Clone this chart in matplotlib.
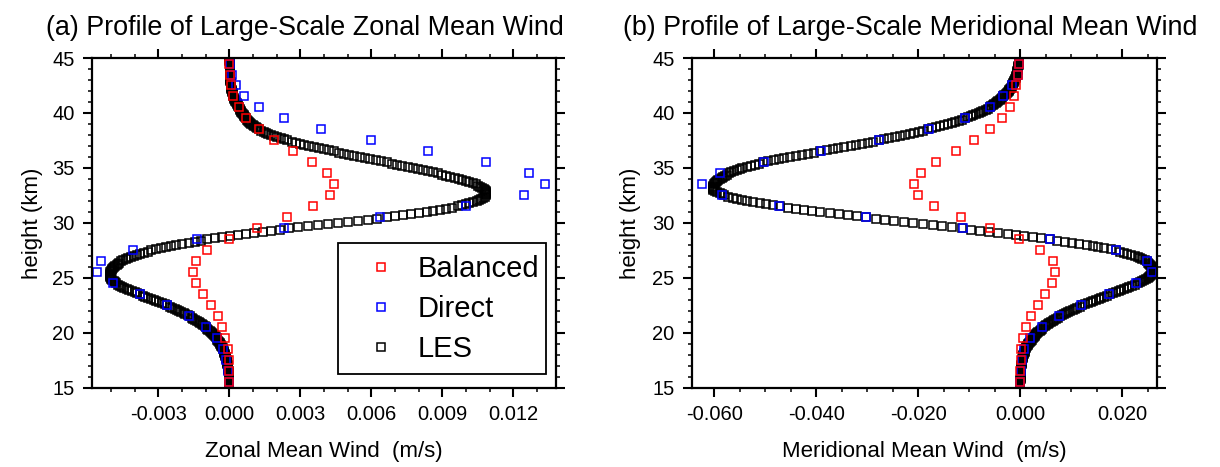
import numpy as np
import matplotlib
matplotlib.use("Agg")
import matplotlib.pyplot as plt
from matplotlib.ticker import MultipleLocator, FormatStrFormatter
from matplotlib.lines import Line2D
from matplotlib.patches import Rectangle

plt.rcParams['font.family'] = ['Liberation Sans', 'DejaVu Sans']
plt.rcParams['axes.unicode_minus'] = False

# heights (km): LES every 0.1 km, Balanced / Direct every 1 km
les_z = np.round(np.linspace(15, 45, 301), 1)
obs_z = np.arange(15.5, 45, 1.0)

# zonal mean wind (m/s)
bal_u = [0.0, 0.0, -0.00003, -0.00007, -0.00017, -0.0003, -0.0005, -0.00078, -0.0011, -0.0014,
         -0.00155, -0.0014, -0.00093, 0.0, 0.00117, 0.00244, 0.00354, 0.00423, 0.00444, 0.00414,
         0.00351, 0.00269, 0.0019, 0.00123, 0.0007, 0.0004, 0.00017, 0.00006, 0.00002, 0.0]
dir_u = [-0.00002, -0.00005, -0.00014, -0.00028, -0.00054, -0.00099, -0.00169, -0.00265, -0.0038, -0.00493,
         -0.0056, -0.00542, -0.00406, -0.00137, 0.00232, 0.00638, 0.01001, 0.01246, 0.01335, 0.01268,
         0.01083, 0.00841, 0.00597, 0.00387, 0.00229, 0.00125, 0.00062, 0.00028, 0.0001, 0.00003]
les_u = [
    0.0, 0.0, 0.0, -0.00001, -0.00001, -0.00001, -0.00001, -0.00001, -0.00002, -0.00002,
    -0.00002, -0.00002, -0.00003, -0.00003, -0.00004, -0.00004, -0.00005, -0.00005, -0.00006, -0.00006,
    -0.00007, -0.00008, -0.00009, -0.0001, -0.00011, -0.00012, -0.00013, -0.00014, -0.00016, -0.00017,
    -0.00018, -0.0002, -0.00022, -0.00023, -0.00025, -0.00027, -0.00029, -0.00032, -0.00034, -0.00037,
    -0.00039, -0.00042, -0.00045, -0.00048, -0.00051, -0.00054, -0.00058, -0.00062, -0.00066, -0.0007,
    -0.00074, -0.00079, -0.00084, -0.00089, -0.00094, -0.00099, -0.00105, -0.00111, -0.00118, -0.00124,
    -0.0013, -0.00137, -0.00145, -0.00153, -0.0016, -0.00168, -0.00177, -0.00186, -0.00194, -0.00203,
    -0.00212, -0.00222, -0.00232, -0.00243, -0.00253, -0.00263, -0.00274, -0.00286, -0.00297, -0.00309,
    -0.0032, -0.00332, -0.00343, -0.00355, -0.00366, -0.00378, -0.00389, -0.004, -0.00412, -0.00423,
    -0.00434, -0.00444, -0.00453, -0.00462, -0.0047, -0.00478, -0.00484, -0.0049, -0.00495, -0.00499,
    -0.00502, -0.00504, -0.00506, -0.00506, -0.00505, -0.00503, -0.00501, -0.00498, -0.00495, -0.00492,
    -0.00488, -0.00483, -0.00477, -0.00471, -0.00465, -0.00458, -0.00449, -0.00439, -0.00428, -0.00417,
    -0.00405, -0.00391, -0.00376, -0.00361, -0.00346, -0.0033, -0.00311, -0.0029, -0.00268, -0.00246,
    -0.00225, -0.002, -0.00173, -0.00147, -0.00121, -0.00095, -0.00063, -0.0003, 0.00003, 0.00037,
    0.0007, 0.00105, 0.0014, 0.00177, 0.00214, 0.0025, 0.0029, 0.00332, 0.00375, 0.00418,
    0.0046, 0.00502, 0.00543, 0.00584, 0.00625, 0.00665, 0.007, 0.00734, 0.00768, 0.00802,
    0.00835, 0.00862, 0.00888, 0.00914, 0.0094, 0.00965, 0.00982, 0.00998, 0.01014, 0.0103,
    0.01045, 0.01054, 0.01062, 0.0107, 0.01078, 0.01085, 0.01086, 0.01086, 0.01085, 0.01084,
    0.01082, 0.01075, 0.01067, 0.01059, 0.0105, 0.01042, 0.01028, 0.01013, 0.00998, 0.00984,
    0.0097, 0.00952, 0.00934, 0.00916, 0.00898, 0.0088, 0.00859, 0.00838, 0.00817, 0.00796,
    0.00775, 0.00753, 0.00731, 0.00709, 0.00687, 0.00665, 0.00642, 0.00619, 0.00596, 0.00573,
    0.0055, 0.00528, 0.00506, 0.00484, 0.00462, 0.0044, 0.00419, 0.00398, 0.00377, 0.00356,
    0.00335, 0.00317, 0.00299, 0.00281, 0.00263, 0.00245, 0.00231, 0.00217, 0.00203, 0.00189,
    0.00175, 0.00165, 0.00155, 0.00145, 0.00135, 0.00125, 0.00118, 0.00112, 0.00105, 0.00099,
    0.00092, 0.00088, 0.00083, 0.00079, 0.00074, 0.0007, 0.00067, 0.00063, 0.0006, 0.00056,
    0.00053, 0.0005, 0.00048, 0.00045, 0.00043, 0.0004, 0.00037, 0.00035, 0.00032, 0.0003,
    0.00027, 0.00025, 0.00023, 0.00021, 0.00019, 0.00017, 0.00016, 0.00014, 0.00013, 0.00011,
    0.0001, 0.00009, 0.00008, 0.00008, 0.00007, 0.00006, 0.00006, 0.00005, 0.00005, 0.00004,
    0.00004, 0.00004, 0.00003, 0.00003, 0.00002, 0.00002, 0.00002, 0.00002, 0.00001, 0.00001,
    0.00001, 0.00001, 0.00001, 0.00001, 0.00001, 0.00001, 0.00001, 0.0, 0.0, 0.0,
    0.0]

# meridional mean wind (m/s)
bal_v = [0.0, 0.0, 0.0001, 0.0002, 0.0005, 0.0012, 0.0021, 0.0035, 0.0048, 0.0062,
         0.0069, 0.0064, 0.0039, -0.0003, -0.0059, -0.0117, -0.0169, -0.0201, -0.0209, -0.0195,
         -0.0165, -0.0127, -0.009, -0.0059, -0.0036, -0.0021, -0.0012, -0.0008, -0.0005, -0.0003]
dir_v = [0.0, 0.0001, 0.0003, 0.0008, 0.002, 0.0043, 0.0075, 0.012, 0.0174, 0.0226,
         0.0258, 0.0249, 0.0187, 0.0059, -0.0112, -0.0303, -0.0474, -0.0586, -0.0624, -0.059,
         -0.0503, -0.039, -0.0277, -0.018, -0.0108, -0.006, -0.0033, -0.0016, -0.0005, -0.0003]
les_v = [
    0.0, 0.0, 0.0, 0.0, 0.0, 0.0, 0.0, 0.0, 0.0001, 0.0001,
    0.0001, 0.0001, 0.0001, 0.0001, 0.0001, 0.0001, 0.0001, 0.0002, 0.0002, 0.0002,
    0.0002, 0.0002, 0.0003, 0.0003, 0.0003, 0.0004, 0.0004, 0.0005, 0.0005, 0.0006,
    0.0006, 0.0007, 0.0008, 0.0009, 0.0009, 0.001, 0.0011, 0.0012, 0.0014, 0.0015,
    0.0016, 0.0018, 0.0019, 0.0021, 0.0022, 0.0024, 0.0026, 0.0028, 0.0029, 0.0031,
    0.0033, 0.0035, 0.0038, 0.004, 0.0043, 0.0045, 0.0048, 0.0051, 0.0054, 0.0057,
    0.006, 0.0064, 0.0067, 0.0071, 0.0074, 0.0078, 0.0082, 0.0086, 0.009, 0.0094,
    0.0098, 0.0103, 0.0108, 0.0112, 0.0117, 0.0122, 0.0127, 0.0132, 0.0138, 0.0143,
    0.0148, 0.0154, 0.0159, 0.0165, 0.017, 0.0176, 0.0182, 0.0187, 0.0193, 0.0198,
    0.0204, 0.0209, 0.0214, 0.022, 0.0225, 0.023, 0.0234, 0.0238, 0.0242, 0.0246,
    0.025, 0.0252, 0.0254, 0.0256, 0.0258, 0.026, 0.0261, 0.0261, 0.026, 0.026,
    0.0259, 0.0257, 0.0255, 0.0252, 0.025, 0.0248, 0.0244, 0.0239, 0.0234, 0.023,
    0.0225, 0.0218, 0.021, 0.0203, 0.0195, 0.0188, 0.0177, 0.0165, 0.0153, 0.0142,
    0.013, 0.0116, 0.0101, 0.0087, 0.0072, 0.0058, 0.0041, 0.0025, 0.0008, -0.0008,
    -0.0025, -0.0043, -0.0061, -0.0079, -0.0097, -0.0115, -0.0134, -0.0153, -0.0172, -0.0191,
    -0.021, -0.0228, -0.0247, -0.0265, -0.0284, -0.0302, -0.032, -0.0338, -0.0356, -0.0374,
    -0.0392, -0.0408, -0.0424, -0.044, -0.0456, -0.0472, -0.0485, -0.0498, -0.0511, -0.0524,
    -0.0537, -0.0546, -0.0555, -0.0564, -0.0573, -0.0582, -0.0586, -0.059, -0.0594, -0.0598,
    -0.0602, -0.0603, -0.0603, -0.0602, -0.0602, -0.0601, -0.0599, -0.0597, -0.0594, -0.0592,
    -0.059, -0.0586, -0.0583, -0.0579, -0.0576, -0.0572, -0.0567, -0.0561, -0.0556, -0.055,
    -0.0545, -0.0537, -0.0529, -0.0521, -0.0513, -0.0505, -0.0494, -0.0484, -0.0473, -0.0463,
    -0.0452, -0.044, -0.0428, -0.0416, -0.0404, -0.0392, -0.038, -0.0368, -0.0357, -0.0345,
    -0.0333, -0.0322, -0.0311, -0.0299, -0.0288, -0.0277, -0.0267, -0.0257, -0.0246, -0.0236,
    -0.0226, -0.0217, -0.0208, -0.0199, -0.019, -0.0181, -0.0173, -0.0165, -0.0157, -0.0149,
    -0.0141, -0.0134, -0.0128, -0.0121, -0.0115, -0.0108, -0.0103, -0.0097, -0.0092, -0.0086,
    -0.0081, -0.0077, -0.0073, -0.0068, -0.0064, -0.006, -0.0057, -0.0054, -0.0051, -0.0048,
    -0.0045, -0.0043, -0.004, -0.0038, -0.0035, -0.0033, -0.0031, -0.0029, -0.0027, -0.0025,
    -0.0023, -0.0022, -0.002, -0.0019, -0.0017, -0.0016, -0.0015, -0.0014, -0.0013, -0.0012,
    -0.0011, -0.001, -0.0009, -0.0009, -0.0008, -0.0007, -0.0007, -0.0006, -0.0006, -0.0005,
    -0.0005, -0.0005, -0.0004, -0.0004, -0.0003, -0.0003, -0.0003, -0.0003, -0.0002, -0.0002,
    -0.0002]

titles = ["(a) Profile of Large-Scale Zonal Mean Wind",
          "(b) Profile of Large-Scale Meridional Mean Wind"]
xlabels = ["Zonal Mean Wind  (m/s)", "Meridional Mean Wind  (m/s)"]
legend_labels = ['Balanced', 'Direct', 'LES']

fig = plt.figure(figsize=(12.2, 4.67), dpi=100)
ax1 = fig.add_axes([0.0754, 0.1692, 0.3803, 0.7066])
ax2 = fig.add_axes([0.5672, 0.1692, 0.3811, 0.7066])

mk = dict(ls='none', marker='s', mfc='none', ms=5.4, mew=1.1)

panels = [
    (ax1, les_u, dir_u, bal_u, (-0.00581, 0.0138), 0.003, 0.001, 0.459, -0.105),
    (ax2, les_v, dir_v, bal_v, (-0.0644, 0.0268), 0.02, 0.005, 0.469, -0.11),
]

for i, (ax, les, dire, bal, xlim, major, minor, tx, ylx) in enumerate(panels):
    ax.plot(les, les_z, mec='black', **mk)
    ax.plot(dire, obs_z, mec='blue', **mk)
    ax.plot(bal, obs_z, mec='red', **mk)

    ax.set_xlim(xlim)
    ax.set_ylim(15, 45)
    ax.xaxis.set_major_locator(MultipleLocator(major))
    ax.xaxis.set_minor_locator(MultipleLocator(minor))
    ax.xaxis.set_major_formatter(FormatStrFormatter('%.3f'))
    ax.yaxis.set_major_locator(MultipleLocator(5))
    ax.yaxis.set_minor_locator(MultipleLocator(1))
    ax.tick_params(which='both', direction='out', top=True, right=True,
                   labelsize=14.5, width=1.5)
    ax.tick_params(which='major', length=6.5, pad=6)
    ax.tick_params(which='minor', length=3, width=1.1)
    for s in ax.spines.values():
        s.set_linewidth(1.6)

    ax.set_xlabel(xlabels[i], fontsize=16)
    ax.xaxis.set_label_coords(0.5, -0.16)
    ax.set_ylabel("height (km)", fontsize=16)
    ax.yaxis.set_label_coords(ylx, 0.5)
    ax.text(tx, 1.07, titles[i], transform=ax.transAxes, ha='center',
            va='baseline', fontsize=19.4)

# legend box (left panel) and its entries
ax1.add_patch(Rectangle((0.530, 0.0424), 0.448, 0.3966, transform=ax1.transAxes,
                        fill=True, facecolor='white', edgecolor='black',
                        linewidth=1.3, zorder=5))
handles = [Line2D([], [], mec=c, **mk) for c in ['red', 'blue', 'black']]
leg = ax1.legend(handles, legend_labels, loc='center left',
                 bbox_to_anchor=(0.5916, 0.239), fontsize=21, frameon=False,
                 handlelength=1.0, handletextpad=0.74, labelspacing=0.41,
                 borderpad=0.0, borderaxespad=0.0)
leg.set_zorder(6)

fig.savefig("out.png", dpi=100)
